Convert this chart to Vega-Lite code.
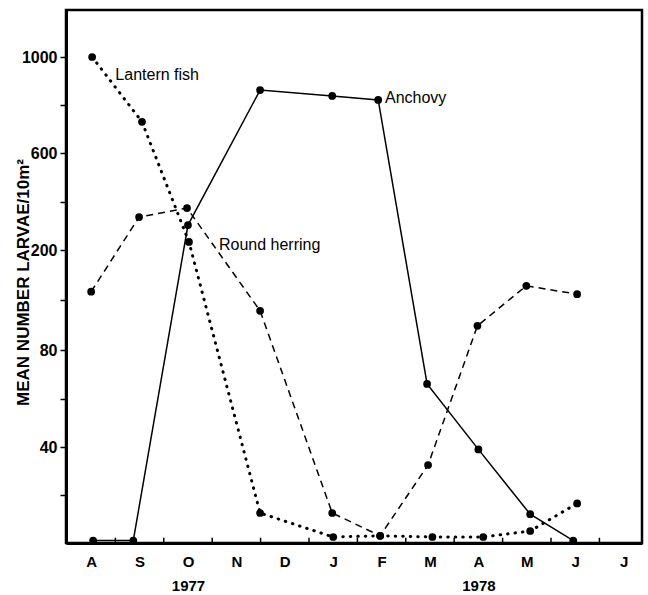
{
  "$schema": "https://vega.github.io/schema/vega-lite/v6.json",
  "width": 576,
  "height": 533,
  "autosize": "none",
  "padding": {"left": 66, "top": 10, "right": 6, "bottom": 52},
  "background": "white",
  "config": {
    "view": {"stroke": "black", "strokeWidth": 2.5},
    "font": "Liberation Sans"
  },
  "datasets": {
    "larvae": [
      {"series": "Lantern fish", "month": 0.02, "count": 1000},
      {"series": "Lantern fish", "month": 1.05, "count": 730},
      {"series": "Lantern fish", "month": 2.02, "count": 233},
      {"series": "Lantern fish", "month": 3.49, "count": 12.5},
      {"series": "Lantern fish", "month": 5.0, "count": 2.5},
      {"series": "Lantern fish", "month": 5.97, "count": 3},
      {"series": "Lantern fish", "month": 7.05, "count": 2.5},
      {"series": "Lantern fish", "month": 8.1, "count": 2.5},
      {"series": "Lantern fish", "month": 9.07, "count": 5},
      {"series": "Lantern fish", "month": 10.04, "count": 16.5},
      {"series": "Anchovy", "month": 0.04, "count": 1},
      {"series": "Anchovy", "month": 0.87, "count": 1},
      {"series": "Anchovy", "month": 2.0, "count": 303},
      {"series": "Anchovy", "month": 3.49, "count": 862},
      {"series": "Anchovy", "month": 4.98, "count": 838},
      {"series": "Anchovy", "month": 5.93, "count": 821},
      {"series": "Anchovy", "month": 6.94, "count": 66},
      {"series": "Anchovy", "month": 8.0, "count": 39},
      {"series": "Anchovy", "month": 9.07, "count": 12},
      {"series": "Anchovy", "month": 9.96, "count": 1},
      {"series": "Round herring", "month": 0.0, "count": 150},
      {"series": "Round herring", "month": 0.99, "count": 336},
      {"series": "Round herring", "month": 1.98, "count": 373},
      {"series": "Round herring", "month": 3.49, "count": 127},
      {"series": "Round herring", "month": 4.98, "count": 12.5},
      {"series": "Round herring", "month": 5.97, "count": 3},
      {"series": "Round herring", "month": 6.96, "count": 32.5},
      {"series": "Round herring", "month": 7.98, "count": 109},
      {"series": "Round herring", "month": 8.99, "count": 157},
      {"series": "Round herring", "month": 10.04, "count": 147}
    ],
    "labels": [
      {"text": "Lantern fish", "month": 0.5, "count": 925},
      {"text": "Anchovy", "month": 6.07, "count": 829},
      {"text": "Round herring", "month": 2.64, "count": 221}
    ],
    "monthBounds": [
      {"month": 0.5, "count": 0, "top": 2.2},
      {"month": 1.5, "count": 0, "top": 2.2},
      {"month": 2.5, "count": 0, "top": 2.2},
      {"month": 3.5, "count": 0, "top": 2.2},
      {"month": 4.5, "count": 0, "top": 2.2},
      {"month": 5.5, "count": 0, "top": 2.2},
      {"month": 6.5, "count": 0, "top": 2.2},
      {"month": 7.5, "count": 0, "top": 2.2},
      {"month": 8.5, "count": 0, "top": 2.2},
      {"month": 9.5, "count": 0, "top": 2.2},
      {"month": 10.5, "count": 0, "top": 2.2}
    ]
  },
  "encoding": {
    "x": {
      "field": "month",
      "type": "quantitative",
      "scale": {"domain": [-0.52, 11.38], "nice": false, "zero": false},
      "axis": {
        "title": null,
        "grid": false,
        "ticks": false,
        "values": [-0.5, 0.5, 1.5, 2.5, 3.5, 4.5, 5.5, 6.5, 7.5, 8.5, 9.5, 10.5],
        "labelOffset": 24.2,
        "labelExpr": "[['A'],['S'],['O','1977'],['N'],['D'],['J'],['F'],['M'],['A','1978'],['M'],['J'],['J']][round(datum.value + 0.5)]",
        "labelFont": "Liberation Sans",
        "labelFontWeight": "bold",
        "labelFontSize": 15,
        "labelColor": "black",
        "labelLineHeight": 24,
        "labelPadding": 11,
        "labelFlush": false,
        "labelOverlap": false,
        "domainColor": "black",
        "domainWidth": 3
      }
    },
    "y": {
      "field": "count",
      "type": "quantitative",
      "scale": {
        "domain": [0, 40, 80, 200, 600, 1000, 1196],
        "range": [533, 437, 340, 240, 143, 47, 0],
        "nice": false,
        "zero": false
      },
      "axis": {
        "title": "MEAN NUMBER LARVAE/10m²",
        "titleFont": "Liberation Sans",
        "titleFontWeight": "bold",
        "titleFontSize": 17,
        "titleColor": "black",
        "titleAngle": -90,
        "titleX": -43,
        "titleY": 272,
        "titleAlign": "center",
        "titleBaseline": "middle",
        "grid": false,
        "values": [20, 40, 60, 80, 140, 200, 400, 600, 800, 1000],
        "labelExpr": "indexof([40, 80, 200, 600, 1000], datum.value) >= 0 ? datum.label : ''",
        "format": "d",
        "labelFont": "Liberation Sans",
        "labelFontWeight": "bold",
        "labelFontSize": 16,
        "labelColor": "black",
        "labelPadding": 3,
        "tickSize": 6,
        "tickColor": "black",
        "tickWidth": 1.5,
        "domainColor": "black",
        "domainWidth": 3
      }
    }
  },
  "layer": [
    {
      "data": {"name": "monthBounds"},
      "mark": {"type": "rule", "color": "black", "strokeWidth": 1.5},
      "encoding": {"y2": {"field": "top"}}
    },
    {
      "data": {"name": "larvae"},
      "transform": [{"filter": "datum.series === 'Anchovy'"}],
      "mark": {"type": "line", "color": "black", "strokeWidth": 1.5},
      "encoding": {"order": {"field": "month", "type": "quantitative"}}
    },
    {
      "data": {"name": "larvae"},
      "transform": [{"filter": "datum.series === 'Round herring'"}],
      "mark": {"type": "line", "color": "black", "strokeWidth": 1.5, "strokeDash": [7, 5]},
      "encoding": {"order": {"field": "month", "type": "quantitative"}}
    },
    {
      "data": {"name": "larvae"},
      "transform": [{"filter": "datum.series === 'Lantern fish'"}],
      "mark": {"type": "line", "color": "black", "strokeWidth": 3, "strokeDash": [0.5, 7], "strokeCap": "round"},
      "encoding": {"order": {"field": "month", "type": "quantitative"}}
    },
    {
      "data": {"name": "larvae"},
      "mark": {"type": "point", "filled": true, "color": "black", "opacity": 1, "size": 60, "shape": "circle"}
    },
    {
      "data": {"name": "labels"},
      "mark": {"type": "text", "align": "left", "baseline": "middle", "font": "Liberation Sans", "fontSize": 16, "color": "black"},
      "encoding": {"text": {"field": "text", "type": "nominal"}}
    }
  ]
}
